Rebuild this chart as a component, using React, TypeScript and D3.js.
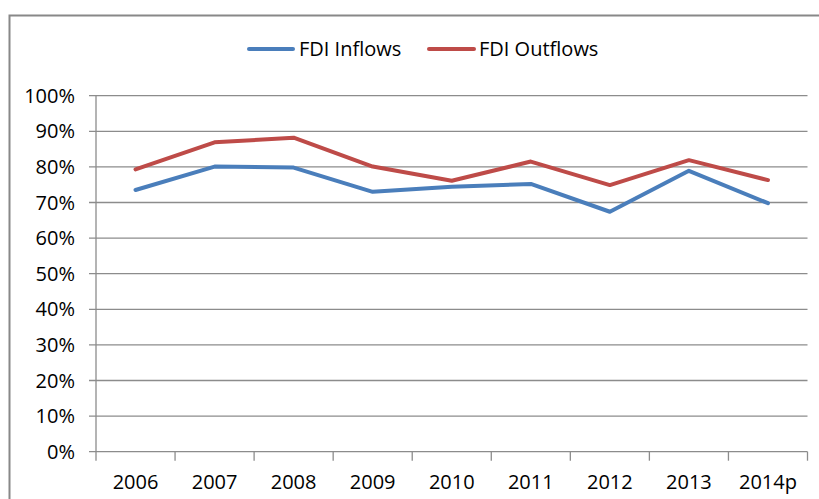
import React from 'react'
import * as d3 from 'd3'

const years = ['2006', '2007', '2008', '2009', '2010', '2011', '2012', '2013', '2014p']
const inflows = [73.5, 80.1, 79.8, 73.0, 74.4, 75.2, 67.4, 78.9, 69.8]
const outflows = [79.3, 86.9, 88.2, 80.1, 76.1, 81.5, 74.9, 81.9, 76.3]
const yTicks = [0, 10, 20, 30, 40, 50, 60, 70, 80, 90, 100]

const width = 819
const height = 499
const plotLeft = 96
const plotRight = 807.5
const plotTop = 95.7
const plotBottom = 451.7
const font = '"Open Sans", "Liberation Sans", sans-serif'
const fontSize = 20
const grid = '#8c8c8c'
const blue = '#4a7ebb'
const red = '#be4b48'

export default function App() {
  const x = d3.scaleBand<string>().domain(years).range([plotLeft, plotRight]).padding(0)
  const y = d3.scaleLinear().domain([0, 100]).range([plotBottom, plotTop])
  const cx = (d: string) => (x(d) ?? 0) + x.bandwidth() / 2

  const line = d3
    .line<number>()
    .x((_, i) => cx(years[i]))
    .y(d => y(d))

  const series = [
    { name: 'FDI Inflows', values: inflows, color: blue },
    { name: 'FDI Outflows', values: outflows, color: red },
  ]

  // category boundaries for the x tick marks
  const boundaries = years.map(d => x(d) ?? 0).concat([plotRight])

  return (
    <svg
      width={width}
      height={height}
      style={{ position: 'absolute', left: 0, top: 0, display: 'block', background: '#fff' }}
      fontFamily={font}
    >
      {/* chart frame, cut off on right and bottom */}
      <rect x={9.5} y={15.5} width={width + 20} height={height + 20} fill="#fff" stroke="#888" strokeWidth={2} />

      {/* legend */}
      <g>
        <line x1={249} x2={293} y1={49} y2={49} stroke={blue} strokeWidth={4} strokeLinecap="round" />
        <text x={299} y={49} dy="0.35em" fontSize={fontSize} fill="#000">FDI Inflows</text>
        <line x1={429} x2={474} y1={49} y2={49} stroke={red} strokeWidth={4} strokeLinecap="round" />
        <text x={479} y={49} dy="0.35em" fontSize={fontSize} fill="#000">FDI Outflows</text>
      </g>

      {/* gridlines and y ticks */}
      {yTicks.map(t => (
        <g key={t}>
          <line x1={plotLeft - 7} x2={plotRight} y1={y(t)} y2={y(t)} stroke={grid} strokeWidth={1.3} />
          <text x={75} y={y(t)} dy="0.35em" textAnchor="end" fontSize={fontSize} fill="#000">
            {t}%
          </text>
        </g>
      ))}

      {/* y axis */}
      <line x1={plotLeft} x2={plotLeft} y1={plotTop} y2={plotBottom} stroke={grid} strokeWidth={1.3} />

      {/* x ticks and labels */}
      {boundaries.map((b, i) => (
        <line key={i} x1={b} x2={b} y1={plotBottom} y2={plotBottom + 9} stroke={grid} strokeWidth={1.3} />
      ))}
      {years.map(d => (
        <text key={d} x={cx(d)} y={482} dy="0.35em" textAnchor="middle" fontSize={fontSize} fill="#000">
          {d}
        </text>
      ))}

      {/* series */}
      {series.map(s => (
        <path
          key={s.name}
          d={line(s.values) ?? ''}
          fill="none"
          stroke={s.color}
          strokeWidth={4}
          strokeLinejoin="round"
          strokeLinecap="round"
        />
      ))}
    </svg>
  )
}
